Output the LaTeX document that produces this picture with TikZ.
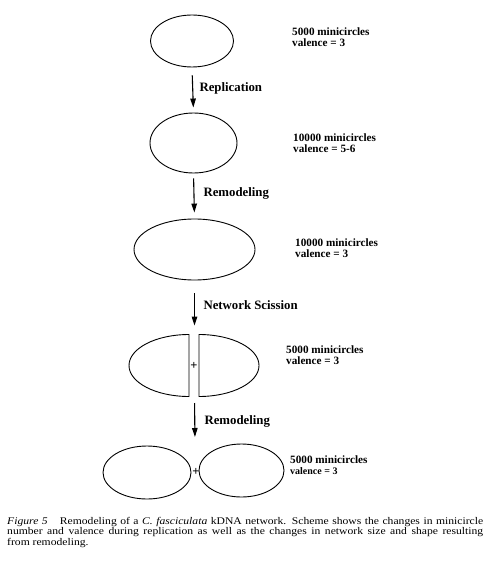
\documentclass[tikz,border=0pt]{standalone}
\usepackage{fontspec}
\setmainfont{Liberation Serif}
\newfontfamily\capfont{Liberation Serif}[FakeStretch=1.14]
\usetikzlibrary{shapes.geometric,arrows.meta}
\begin{document}
\begin{tikzpicture}[x=1pt, y=-1pt,
  net/.style={draw, ellipse, line width=0.9pt, inner sep=0pt},
  halfnet/.style={draw, line width=0.9pt},
  stage/.style={line width=1.1pt, -{Triangle[length=9pt,width=5.5pt]}},
  steplabel/.style={anchor=west, font=\fontsize{12.8}{13}\selectfont\bfseries},
  count/.style={anchor=west, align=left, inner sep=0pt, font=\fontsize{11.2}{10.8}\selectfont\bfseries},
  plus/.style={font=\fontsize{12.5}{12.5}\selectfont\bfseries, inner sep=0pt}]
  \useasboundingbox (0,0) rectangle (494,569);
  % Netzwerke
  \node[net, minimum width=83pt, minimum height=52pt] (net1) at (192,41) {};
  \node[net, minimum width=87pt, minimum height=60pt] (net2) at (193.5,143) {};
  \node[net, minimum width=121pt, minimum height=61pt] (net3) at (194.5,249.5) {};
  % geteiltes Netzwerk
  \coordinate (cut) at (194,365.5);
  \coordinate (cutN) at (194.5,334.5);
  \coordinate (cutS) at (194.5,396.5);
  \draw[halfnet] (189,396.5) arc[start angle=90, end angle=270, x radius=60, y radius=31] -- cycle;
  \draw[halfnet] (199,334.5) arc[start angle=270, end angle=450, x radius=60, y radius=31] -- cycle;
  \node[plus] (plus1) at (cut) {+};
  % zwei Tochternetzwerke
  \node[net, minimum width=88pt, minimum height=53pt] (net4a) at (147,472.5) {};
  \node[net, minimum width=85pt, minimum height=53pt] (net4b) at (241.5,470.5) {};
  \node[plus] (plus2) at (196,472) {+};
  \coordinate (pairN) at (195,445);
  % Pfeile
  \draw[stage, shorten <=8pt, shorten >=5pt] (net1.south) -- (net2.north);
  \draw[stage, shorten <=5pt, shorten >=6pt] (net2.south) -- (net3.north);
  \draw[stage, shorten <=13pt, shorten >=9pt] (net3.south) -- (cutN);
  \draw[stage, shorten <=6.5pt, shorten >=8pt] (cutS) -- (pairN);
  \node[steplabel] (lab1) at (196,88) {Replication};
  \node[steplabel] (lab2) at (200,193) {Remodeling};
  \node[steplabel] (lab3) at (200,305) {Network Scission};
  \node[steplabel] (lab4) at (201,421) {Remodeling};
  % Minicircle-Angaben
  \node[count] (cnt1) at (292,37.5) {5000 minicircles\\valence = 3};
  \node[count] (cnt2) at (293,143) {10000 minicircles\\valence = 5-6};
  \node[count] (cnt3) at (295,248) {10000 minicircles\\valence = 3};
  \node[count] (cnt4) at (286,355) {5000 minicircles\\valence = 3};
  \node[count] (cnt5) at (290,465.5) {5000 minicircles\\{\fontsize{10}{10}\selectfont valence = 3}};
  % Bildunterschrift
  \node[anchor=north west, text width=476pt, align=justify, inner sep=0pt,
        font=\capfont\fontsize{10.2}{10.4}\selectfont] (caption) at (7,517)
    {\textit{Figure 5}\hspace{1.2em}Remodeling of a \textit{C. fasciculata} kDNA network. Scheme shows the changes in minicircle\linebreak
     number and valence during replication as well as the changes in network size and shape resulting\linebreak
     from remodeling.};
\end{tikzpicture}
\end{document}
